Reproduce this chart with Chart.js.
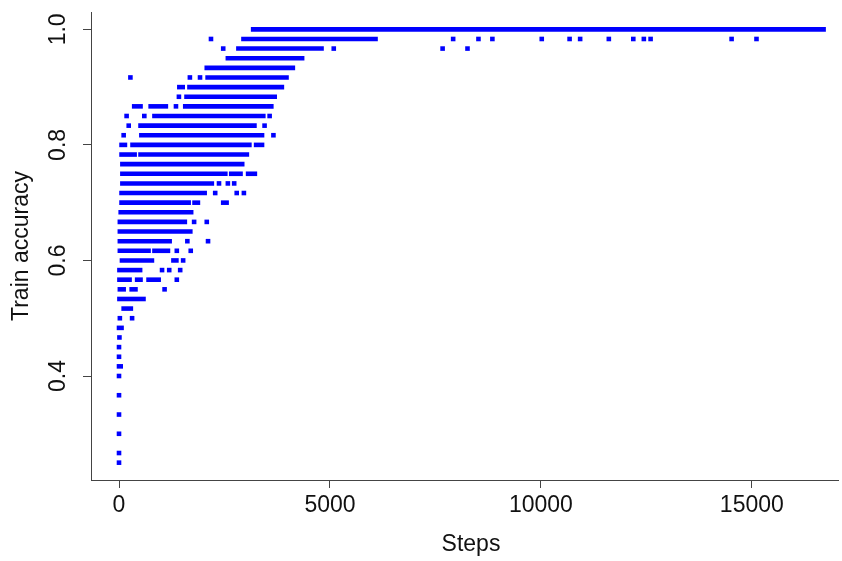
<!DOCTYPE html>
<html>
<head>
<meta charset="utf-8">
<script src="https://cdn.jsdelivr.net/npm/chart.js@4/dist/chart.umd.min.js"></script>
<style>
html,body{margin:0;padding:0;background:#fff;}
#wrap{width:842px;height:561px;position:relative;}
</style>
</head>
<body>
<div id="wrap"><canvas id="c" width="842" height="561"></canvas></div>
<script>
// ---- data ----
const xTicks = [0, 5000, 10000, 15000];
const yTicks = [0.4, 0.6, 0.8, 1.0];
const xTitle = "Steps";
const yTitle = "Train accuracy";

// contiguous runs of logged points: [accuracy, first step, last step]
const runs = [
  [1.0, 3180, 16700],
  [0.9833, 2950, 6080],
  [0.9667, 2830, 4800],
  [0.95, 2580, 4340],
  [0.9333, 2080, 4120],
  [0.9167, 2100, 3970],
  [0.9, 1430, 1510], [0.9, 1670, 3860],
  [0.8833, 1600, 3690],
  [0.8667, 360, 510], [0.8667, 750, 1110], [0.8667, 1570, 3610],
  [0.85, 840, 3420],
  [0.8333, 510, 3210],
  [0.8167, 530, 3390],
  [0.8, 60, 140], [0.8, 320, 3090], [0.8, 3250, 3390],
  [0.7833, 60, 370], [0.7833, 510, 3030],
  [0.7667, 80, 2920],
  [0.75, 80, 2520], [0.75, 2660, 2880], [0.75, 3060, 3220],
  [0.7333, 80, 2200],
  [0.7167, 60, 2030],
  [0.7, 60, 1650], [0.7, 1790, 1870], [0.7, 2470, 2550],
  [0.6833, 40, 1710],
  [0.6667, 20, 1560],
  [0.65, 20, 1690],
  [0.6333, 20, 1200],
  [0.6167, 20, 700], [0.6167, 840, 1160],
  [0.6, 70, 780], [0.6, 1290, 1360],
  [0.5833, 10, 500],
  [0.5667, 10, 250], [0.5667, 430, 510], [0.5667, 700, 940],
  [0.55, 20, 110], [0.55, 300, 390],
  [0.5333, 10, 580],
  [0.5167, 110, 280],
  [0.4833, 0, 60],
  [0.4167, 0, 40]
];

// isolated logged points: [accuracy, step]
const dots = [
  [0.9833, 2180], [0.9833, 7920], [0.9833, 8520], [0.9833, 8850], [0.9833, 10020],
  [0.9833, 10680], [0.9833, 10930], [0.9833, 11610], [0.9833, 12190], [0.9833, 12440],
  [0.9833, 12600], [0.9833, 14520], [0.9833, 15110],
  [0.9667, 2470], [0.9667, 5090], [0.9667, 7670], [0.9667, 8260],
  [0.9167, 270], [0.9167, 1680], [0.9167, 1920],
  [0.8833, 1420],
  [0.8667, 1350],
  [0.85, 180], [0.85, 600], [0.85, 3570],
  [0.8333, 230], [0.8333, 3450],
  [0.8167, 110], [0.8167, 3660],
  [0.7333, 2370], [0.7333, 2580], [0.7333, 2730],
  [0.7167, 2280], [0.7167, 2790], [0.7167, 2960],
  [0.6667, 1780], [0.6667, 2080],
  [0.6333, 1620], [0.6333, 2110],
  [0.6167, 1370], [0.6167, 1700],
  [0.6, 1520],
  [0.5833, 1020], [0.5833, 1190], [0.5833, 1450],
  [0.5667, 1370],
  [0.55, 1080],
  [0.5, 20], [0.5, 310],
  [0.4667, 10],
  [0.45, 0], [0.4333, 0], [0.4, 0], [0.3667, 0], [0.3333, 0],
  [0.3, 0], [0.2667, 0], [0.25, 0]
];

// ---- build chart ----
const BLUE = '#0000ff';
const MARK = 4.6;

const datasets = runs.map(r => ({
  data: [{x: r[1], y: r[0]}, {x: r[2], y: r[0]}],
  showLine: true,
  borderColor: BLUE,
  borderWidth: MARK,
  borderCapStyle: 'square',
  pointRadius: 0,
  fill: false
}));
datasets.push({
  data: dots.map(d => ({x: d[1], y: d[0]})),
  showLine: false,
  pointStyle: 'rect',
  pointRadius: MARK / 2 / Math.SQRT1_2,
  backgroundColor: BLUE,
  borderWidth: 0
});

const FONT = '23px "Liberation Sans", Arial, Helvetica, sans-serif';
const TXT = '#111';
const AX = '#444';

const textPlugin = {
  id: 'rtext',
  afterDraw(chart) {
    const ctx = chart.ctx;
    const xs = chart.scales.x, ys = chart.scales.y, ca = chart.chartArea;
    ctx.save();
    ctx.fillStyle = TXT;
    ctx.font = FONT;
    ctx.textAlign = 'center';
    ctx.textBaseline = 'middle';
    xTicks.forEach(v => ctx.fillText(String(v), xs.getPixelForValue(v), 506));
    yTicks.forEach(v => {
      ctx.save();
      ctx.translate(59, ys.getPixelForValue(v));
      ctx.rotate(-Math.PI / 2);
      ctx.fillText(v.toFixed(1), 0, 0);
      ctx.restore();
    });
    ctx.fillText(xTitle, 471, 545);
    ctx.save();
    ctx.translate(22, (ca.top + ca.bottom) / 2);
    ctx.rotate(-Math.PI / 2);
    ctx.fillText(yTitle, 0, 0);
    ctx.restore();
    ctx.restore();
  }
};

new Chart(document.getElementById('c'), {
  type: 'scatter',
  data: { datasets },
  options: {
    responsive: false,
    animation: false,
    events: [],
    layout: { padding: { top: 12, right: 0, left: 0, bottom: 0 } },
    plugins: { legend: { display: false }, tooltip: { enabled: false } },
    scales: {
      x: {
        type: 'linear',
        min: -664, max: 17042,
        afterBuildTicks: s => { s.ticks = xTicks.map(v => ({value: v})); },
        afterFit: s => { s.height = 81; },
        ticks: { display: false },
        grid: { drawOnChartArea: false, drawTicks: true, tickLength: 8, color: AX, lineWidth: 1 },
        border: { display: true, color: AX, width: 1 }
      },
      y: {
        type: 'linear',
        min: 0.22, max: 1.03,
        afterBuildTicks: s => { s.ticks = yTicks.map(v => ({value: v})); },
        afterFit: s => { s.width = 91; },
        ticks: { display: false },
        grid: { drawOnChartArea: false, drawTicks: true, tickLength: 8, color: AX, lineWidth: 1 },
        border: { display: true, color: AX, width: 1 }
      }
    }
  },
  plugins: [textPlugin]
});
</script>
</body>
</html>
